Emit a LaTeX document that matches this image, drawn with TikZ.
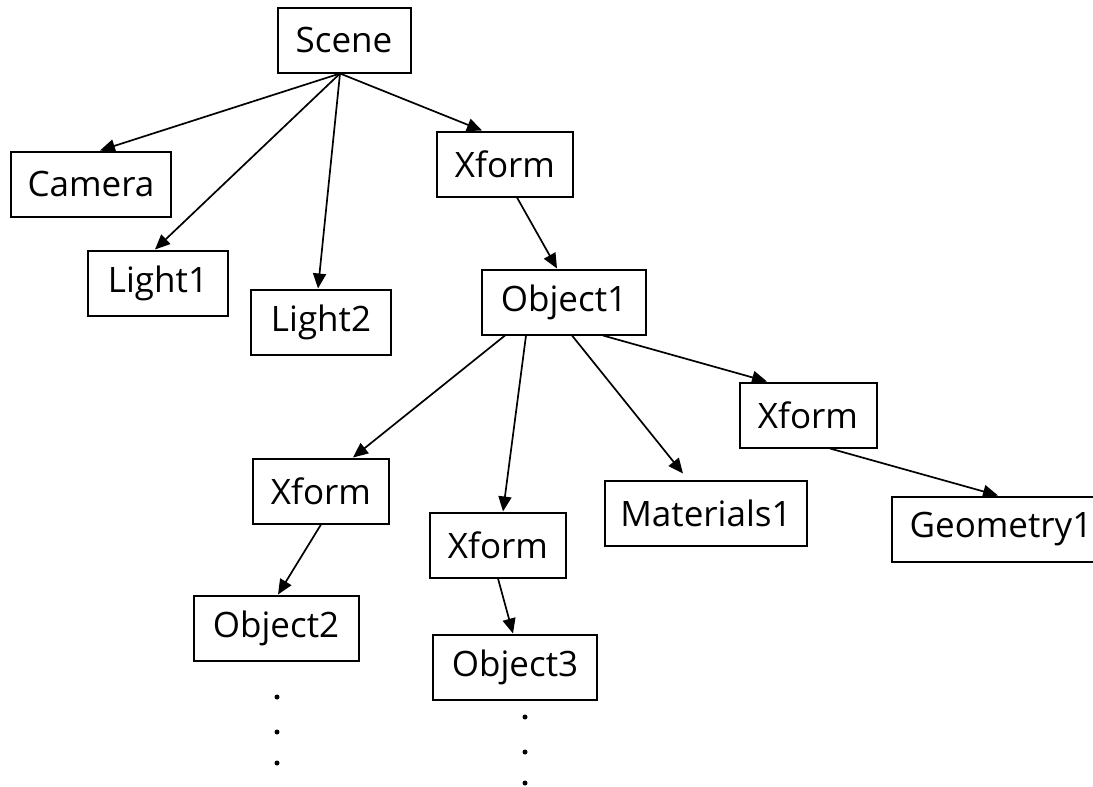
\documentclass[tikz,border=0pt]{standalone}
\usepackage{fontspec}
\setmainfont{Open Sans}
\usetikzlibrary{arrows.meta}
\tikzset{
  box/.style={draw, line width=2pt, minimum height=65pt, inner sep=0pt, font=\fontsize{35pt}{42pt}\selectfont},
  link/.style={line width=1.7pt, -{Triangle[length=15pt,width=13pt]}}
}
\begin{document}
\begin{tikzpicture}[x=1pt, y=-1pt]
    \clip (0,0) rectangle (1093,787);
    \node[box, minimum width=133pt] (scene) at (344,40) { Scene };
    \node[box, minimum width=160pt] (camera) at (91,184) { Camera };
    \node[box, minimum width=140pt] (light1) at (158,283) { Light1 };
    \node[box, minimum width=140pt] (light2) at (321,322) { Light2 };
    \node[box, minimum width=136pt] (xform) at (505,164) { Xform };
    \node[box, minimum width=164pt] (object1) at (564,302) { Object1 };
    % children of Object1
    \node[box, minimum width=136pt] (xformL) at (321,491) { Xform };
    \node[box, minimum width=136pt] (xformM) at (498,545) { Xform };
    \node[box, minimum width=202pt] (mat) at (706,513) { Materials1 };
    \node[box, minimum width=137pt] (xformR) at (808,415) { Xform };
    \node[box, minimum width=218pt, anchor=west] (geom) at (891,529) { Geometry1 };
    \node[box, minimum width=165pt] (object2) at (276,628) { Object2 };
    \node[box, minimum width=164pt] (object3) at (515,667) { Object3 };

    \draw[link] ([xshift=-4pt]scene.south) -- ([xshift=9pt]camera.north);
    \draw[link] ([xshift=-4pt]scene.south) -- ([xshift=-3pt]light1.north);
    \draw[link] ([xshift=-4pt]scene.south) -- ([xshift=-3pt]light2.north);
    \draw[link] ([xshift=-4pt]scene.south) -- ([xshift=-23pt]xform.north);
    \draw[link] ([xshift=12pt]xform.south) -- ([xshift=-7pt]object1.north);

    \draw[link] ([xshift=-59pt]object1.south) -- ([xshift=32pt]xformL.north);
    \draw[link] ([xshift=-38pt]object1.south) -- ([xshift=5pt]xformM.north);
    \draw[link] ([xshift=8pt]object1.south) -- ([xshift=-23pt,yshift=6pt]mat.north);
    \draw[link] ([xshift=39pt]object1.south) -- ([xshift=-41pt]xformR.north);
    \draw[link] ([xshift=22pt]xformR.south) -- ([xshift=-3pt]geom.north);
    \draw[link] (xformL.south) -- ([xshift=2pt]object2.north);
    \draw[link] (xformM.south) -- ([xshift=-2pt]object3.north);

    % dots
    \foreach \y in {697,732,763} \fill (277,\y) circle (2.5pt);
    \foreach \y in {717,752,783} \fill (525,\y) circle (2.5pt);
  \end{tikzpicture}
\end{document}
